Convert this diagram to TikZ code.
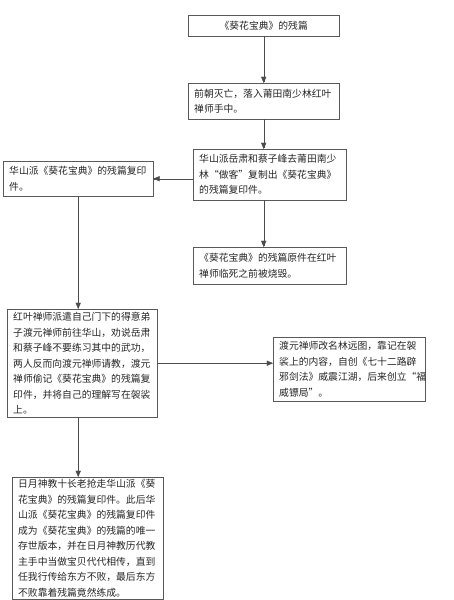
\documentclass[tikz,border=0pt]{standalone}
\usepackage{fontspec}
\setmainfont{Noto Sans CJK SC}
\usepackage{tikz}
\usetikzlibrary{arrows}

\begin{document}
\begin{tikzpicture}[x=1pt,y=-1pt]
            \tikzstyle{box} = [draw=black!65,rectangle,anchor=north west,align=left,inner xsep=6pt,inner ysep=2pt,
                               text=black!85,font=\fontsize{9.8}{15.5}\selectfont]
            \tikzstyle{edge} = [-triangle 45,draw=black!70]
            \useasboundingbox[fill=white] (0,0) rectangle (454,600);

            \node[box,text width=139pt,minimum height=21pt,align=center] (canon) at (188,15) {《葵花宝典》的残篇};
            \node[box,text width=139pt,minimum height=36pt] (nanshaolin) at (188,83)
                {前朝灭亡，落入莆田南少林红叶\\禅师手中。};
            \node[box,text width=141pt,minimum height=51pt] (zuoke) at (193,149)
                {华山派岳肃和蔡子峰去莆田南少\\林“做客”复制出《葵花宝典》\\的残篇复印件。};
            \node[box,text width=138pt,minimum height=35pt] (huashan) at (3,161)
                {华山派《葵花宝典》的残篇复印\\件。};
            \node[box,text width=141pt,minimum height=37pt] (burnt) at (193,247)
                {《葵花宝典》的残篇原件在红叶\\禅师临死之前被烧毁。};
            \node[box,text width=138pt,minimum height=108pt] (duyuan) at (7,309)
                {红叶禅师派遣自己门下的得意弟\\子渡元禅师前往华山，劝说岳肃\\和蔡子峰不要练习其中的武功，\\两人反而向渡元禅师请教，渡元\\禅师偷记《葵花宝典》的残篇复\\印件，并将自己的理解写在袈裟\\上。};
            \node[box,text width=140pt,minimum height=64pt] (linyuantu) at (273,337)
                {渡元禅师改名林远图，靠记在袈\\裟上的内容，自创《七十二路辟\\邪剑法》威震江湖，后来创立“福\\威镖局”。};
            \node[box,text width=139pt,minimum height=121pt] (riyue) at (12,477)
                {日月神教十长老抢走华山派《葵\\花宝典》的残篇复印件。此后华\\山派《葵花宝典》的残篇复印件\\成为《葵花宝典》的残篇的唯一\\存世版本，并在日月神教历代教\\主手中当做宝贝代代相传，直到\\任我行传给东方不败，最后东方\\不败靠着残篇竟然练成。};

            \draw[edge] (canon) -- (nanshaolin);
            \draw[edge] (nanshaolin.south) -- (nanshaolin.south |- zuoke.north);
            \draw[edge] (zuoke.south -| nanshaolin.south) -- (nanshaolin.south |- burnt.north);
            \draw[edge] (zuoke.west |- huashan.east) -- (huashan.east);
            \draw[edge] (huashan.south) -- (huashan.south |- duyuan.north);
            \draw[edge] (duyuan.south -| huashan.south) -- (huashan.south |- riyue.north);
            \draw[edge] (duyuan.east) -- (duyuan.east -| linyuantu.west);
        \end{tikzpicture}
\end{document}
